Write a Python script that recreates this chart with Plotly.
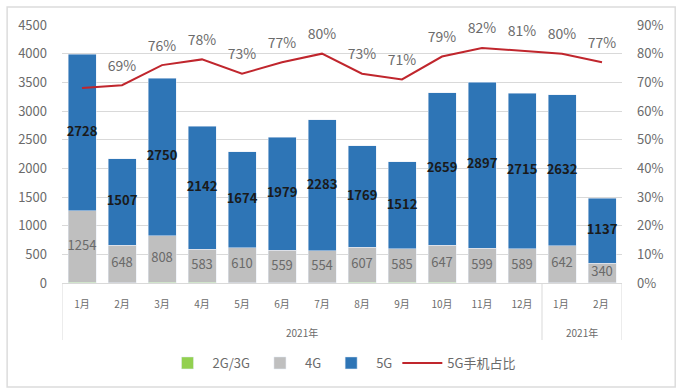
import plotly.graph_objects as go

# categories: second-year months get a trailing space so they stay distinct categories
months = ["1月", "2月", "3月", "4月", "5月", "6月", "7月", "8月", "9月", "10月", "11月", "12月", "1月 ", "2月 "]
year_labels = ["2021年", "2021年"]
g23 = [10, 8, 15, 10, 8, 8, 8, 15, 15, 15, 8, 8, 8, 5]
g4 = [1254, 648, 808, 583, 610, 559, 554, 607, 585, 647, 599, 589, 642, 340]
g5 = [2728, 1507, 2750, 2142, 1674, 1979, 2283, 1769, 1512, 2659, 2897, 2715, 2632, 1137]
share = [0.68, 0.69, 0.76, 0.78, 0.73, 0.77, 0.80, 0.73, 0.71, 0.79, 0.82, 0.81, 0.80, 0.77]
share_labels = ["", "69%", "76%", "78%", "73%", "77%", "80%", "73%", "71%", "79%", "82%", "81%", "80%", "77%"]

font_family = "Noto Sans CJK SC, Noto Sans, sans-serif"
gray_txt = "#6b6b6b"

fig = go.Figure()
fig.add_trace(go.Bar(x=months, y=g23, name="2G/3G", marker_color="#92D050"))
fig.add_trace(go.Bar(x=months, y=g4, name="4G", marker_color="#BFBFBF"))
fig.add_trace(go.Bar(x=months, y=g5, name="5G", marker_color="#2E75B6"))

mid4 = [a + b / 2 for a, b in zip(g23, g4)]
mid5 = [a + b + c / 2 for a, b, c in zip(g23, g4, g5)]
fig.add_trace(go.Scatter(x=months, y=mid4, mode="text", text=[str(v) for v in g4],
                         textfont=dict(size=13, color="#6a6a6a", family=font_family),
                         showlegend=False, hoverinfo="skip", cliponaxis=False))
fig.add_trace(go.Scatter(x=months, y=mid5, mode="text", text=["<b>%d</b>" % v for v in g5],
                         textfont=dict(size=13, color="#1a1a1a", family=font_family),
                         showlegend=False, hoverinfo="skip", cliponaxis=False))

fig.add_trace(go.Scatter(x=months, y=share, name="5G手机占比", yaxis="y2", mode="lines+markers+text",
                         line=dict(color="#C0262D", width=2),
                         marker=dict(size=16, color="rgba(0,0,0,0)"),
                         text=share_labels, textposition="top center",
                         textfont=dict(size=14, color=gray_txt, family=font_family),
                         cliponaxis=False))

shapes = [dict(type="rect", xref="paper", yref="paper", x0=-0.098, x1=1.095, y0=-0.403, y1=1.07,
               line=dict(color="#dcdcdc", width=1.5))]
for xv in [-0.5, 11.5, 13.5]:
    shapes.append(dict(type="line", xref="x", yref="paper", x0=xv, x1=xv, y0=0, y1=-0.221,
                       line=dict(color="#d9d9d9", width=1)))

annotations = [
    dict(x=5.5, y=-0.19, xref="x", yref="paper", text=year_labels[0], showarrow=False,
         font=dict(size=10, color=gray_txt, family=font_family), yanchor="middle"),
    dict(x=12.5, y=-0.19, xref="x", yref="paper", text=year_labels[1], showarrow=False,
         font=dict(size=10, color=gray_txt, family=font_family), yanchor="middle"),
]

fig.update_layout(
    width=682, height=389,
    barmode="stack", bargap=0.3,
    paper_bgcolor="white", plot_bgcolor="white",
    margin=dict(l=62, r=60, t=25, b=106, autoexpand=False),
    font=dict(family=font_family, color=gray_txt, size=12),
    xaxis=dict(type="category", range=[-0.5, 13.5], autorange=False, automargin=False,
               tickfont=dict(size=10, color=gray_txt),
               showline=True, linecolor="#d9d9d9", ticks="", ticklabelstandoff=12),
    yaxis=dict(range=[0, 4500], dtick=500, showgrid=True, gridcolor="#d9d9d9", automargin=False,
               tickfont=dict(size=13, color=gray_txt), zeroline=False, ticklabelstandoff=14),
    yaxis2=dict(range=[0, 0.9], dtick=0.1, tickformat=".0%", overlaying="y", side="right",
                showgrid=False, tickfont=dict(size=13, color=gray_txt), zeroline=False,
                automargin=False, ticklabelstandoff=14),
    legend=dict(orientation="h", x=0.5, xanchor="center", y=-0.31, yanchor="middle",
                traceorder="normal", itemwidth=40, font=dict(size=13, color=gray_txt)),
    shapes=shapes,
    annotations=annotations,
)

fig.write_html("out.html", post_script="document.body.style.margin='0';",
               config={"displayModeBar": False})
